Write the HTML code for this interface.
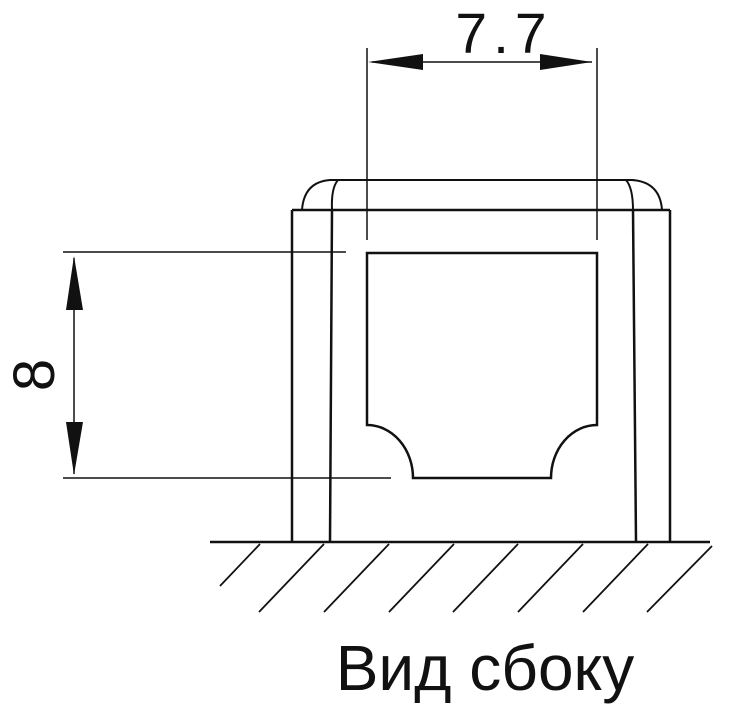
<!DOCTYPE html>
<html><head><meta charset="utf-8"><style>
html,body{margin:0;padding:0;background:#fff;}
svg{display:block;}
text{font-family:"Liberation Sans",sans-serif;fill:#111;}
</style></head><body>
<svg width="750" height="717" viewBox="0 0 750 717" xmlns="http://www.w3.org/2000/svg">
<g fill="none" stroke="#111" stroke-width="2">
  <!-- outer body -->
  <line x1="292" y1="210" x2="670" y2="210" stroke-width="2.5"/>
  <line x1="292" y1="210" x2="292" y2="542" stroke-width="2.5"/>
  <line x1="670" y1="210" x2="670" y2="542" stroke-width="2.5"/>
  <line x1="332" y1="210" x2="330" y2="542" stroke-width="2.5"/>
  <line x1="633" y1="210" x2="636" y2="542" stroke-width="2.5"/>
  <!-- rounded top -->
  <path d="M302 210 Q304 182 330 180 L632 180 Q660 182 662 210"/>
  <path d="M332 210 Q331 188 338 180"/>
  <path d="M633 210 Q633 188 626 180"/>
  <!-- inner opening -->
  <path d="M367 253 L597 253 L597 425 A46 53 0 0 0 551 478 L413 478 A46 53 0 0 0 367 425 Z" stroke-width="2.5"/>
  <!-- dim extension lines top -->
  <line x1="367" y1="48" x2="367" y2="240" stroke-width="1.5"/>
  <line x1="597" y1="48" x2="597" y2="240" stroke-width="1.5"/>
  <line x1="372" y1="62" x2="592" y2="62" stroke-width="1.5"/>
  <!-- dim extension lines left -->
  <line x1="63" y1="252" x2="346" y2="252" stroke-width="1.5"/>
  <line x1="63" y1="478" x2="391" y2="478" stroke-width="1.5"/>
  <line x1="74" y1="258" x2="74" y2="474" stroke-width="1.5"/>
  <!-- ground -->
  <line x1="210" y1="542" x2="710" y2="542" stroke-width="2.5"/>
  <line x1="260" y1="544" x2="220" y2="586" stroke-width="1.8"/>
  <line x1="324" y1="544" x2="259" y2="612" stroke-width="1.8"/>
  <line x1="389" y1="544" x2="324" y2="612" stroke-width="1.8"/>
  <line x1="454" y1="544" x2="389" y2="612" stroke-width="1.8"/>
  <line x1="518" y1="544" x2="453" y2="612" stroke-width="1.8"/>
  <line x1="583" y1="544" x2="518" y2="612" stroke-width="1.8"/>
  <line x1="648" y1="544" x2="583" y2="612" stroke-width="1.8"/>
  <line x1="712" y1="546" x2="647" y2="612" stroke-width="1.8"/>
</g>
<g fill="#111">
  <polygon points="368,62 423,54 423,70"/>
  <polygon points="592,62 540,54 540,70"/>
  <polygon points="74,256 66,310 83,310"/>
  <polygon points="74,475 66,422 83,422"/>
</g>
<text x="504" y="53" font-size="57" text-anchor="middle" letter-spacing="6">7.7</text>
<text x="0" y="0" font-size="58" text-anchor="middle" transform="translate(54,375) rotate(-90)">8</text>
<text x="485" y="690" font-size="64" text-anchor="middle">Вид сбоку</text>
</svg>
</body></html>
